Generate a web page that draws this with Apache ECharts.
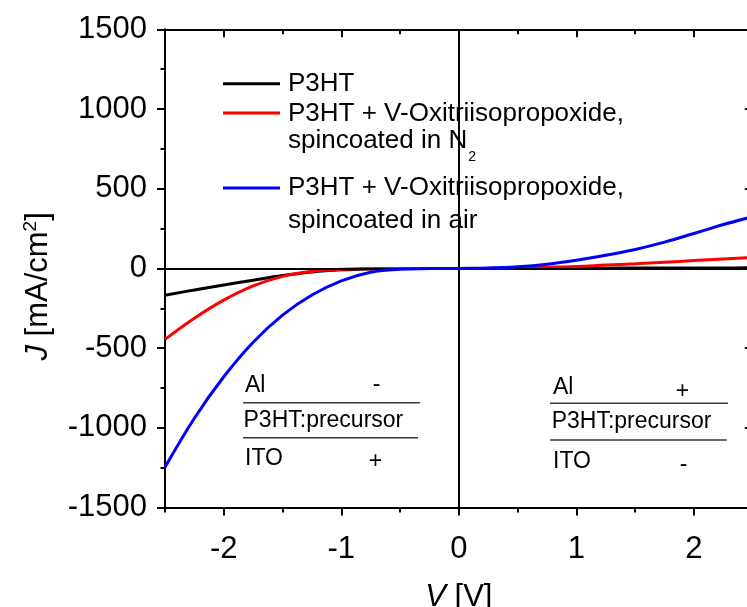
<!DOCTYPE html>
<html><head><meta charset="utf-8">
<script src="https://cdn.jsdelivr.net/npm/echarts@6/dist/echarts.min.js"></script>
<style>html,body{margin:0;padding:0;background:#fff}#c{width:747px;height:607px}</style>
</head><body><div id="c"></div>
<script>
// ---- data ----
const voltage = [-2.5,-2.25,-2,-1.75,-1.5,-1.25,-1,-0.75,-0.5,-0.25,0,0.25,0.5,0.75,1,1.25,1.5,1.75,2,2.25,2.5];
const jP3HT   = [-168,-135,-104,-74,-45,-22,-9,-3,-1,0,0,0,0.5,1,1,1.5,2,2,2.5,3,3.5];
const jN2     = [-445,-312,-199,-110,-50,-19,-6,-2,-0.5,0,0,0.5,3,7,12,21,29,39,49,59,69];
const jAir    = [-1248,-940,-680,-463,-293,-167,-78,-24,-5,-1,0,2,10,26,51,82,119,165,219,275,325];
const seriesNames = ['P3HT', 'P3HT + V-Oxitriisopropoxide, spincoated in N2', 'P3HT + V-Oxitriisopropoxide, spincoated in air'];
const seriesColors = ['#000000', '#ff0000', '#0000ff'];
const xMajorTicks = [-2, -1, 0, 1, 2];
const xMinorTicks = [-2.5, -1.5, -0.5, 0.5, 1.5, 2.5];
const xRange = [-2.5, 2.5];
const yRange = [-1500, 1500];
const yStep = 500;
const leftStack  = ['Al', '-', 'P3HT:precursor', 'ITO', '+'];
const rightStack = ['Al', '+', 'P3HT:precursor', 'ITO', '-'];

const FONT = '"Liberation Sans", Arial, Helvetica, sans-serif';
const pair = (ys) => voltage.map((v, i) => [v, ys[i]]);
const allSeries = [jP3HT, jN2, jAir];

const chart = echarts.init(document.getElementById('c'), null, {renderer: 'canvas'});

function baseX(extra) {
  return Object.assign({
    type: 'value', min: xRange[0], max: xRange[1], interval: 0.5,
    splitLine: {show: false},
    axisLine: {show: false, onZero: false},
    axisLabel: {show: false},
    axisTick: {show: false}
  }, extra);
}
const axisBlack = {color: '#000', width: 2};

function stackGraphics(items, o) {
  const g = [];
  const t = (text, x, y, align) => ({
    type: 'text', silent: true, z: 50,
    style: {text, x, y, align: align || 'left', verticalAlign: 'middle', font: '23px ' + FONT, fill: '#000'}
  });
  const l = (x1, x2, y) => ({
    type: 'line', silent: true, z: 50,
    shape: {x1, y1: y, x2, y2: y}, style: {stroke: '#3a3a3a', lineWidth: 1.5}
  });
  g.push(t(items[0], o.alX, o.alY));
  g.push(t(items[1], o.s1X, o.s1Y, 'center'));
  g.push(l(o.l1a, o.l1b, o.l1y));
  g.push(t(items[2], o.pX, o.pY));
  g.push(l(o.l2a, o.l2b, o.l2y));
  g.push(t(items[3], o.itoX, o.itoY));
  g.push(t(items[4], o.s2X, o.s2Y, 'center'));
  return g;
}

const legendRich = {
  a: {fontSize: 26, fontFamily: FONT, lineHeight: 30, backgroundColor: '#fff'},
  b: {fontSize: 26, fontFamily: FONT, lineHeight: 27, verticalAlign: 'top', backgroundColor: '#fff'},
  bs: {fontSize: 14, fontFamily: FONT, padding: [23, 1, 0, 1], verticalAlign: 'top', backgroundColor: '#fff'},
  c: {fontSize: 26, fontFamily: FONT, lineHeight: 33, backgroundColor: '#fff'}
};
function legendLabel(name) {
  if (name === seriesNames[0]) return '{a|P3HT}';
  if (name === seriesNames[1]) return '{b|P3HT + V-Oxitriisopropoxide,}\n{b|spincoated in N}{bs|2}';
  return '{c|P3HT + V-Oxitriisopropoxide,}\n{c|spincoated in air}';
}
// padTop keeps the legend line marker level with the first text line
function makeLegend(k, top, padTop) {
  return {
    orient: 'vertical', left: 223, top: top, padding: 0,
    icon: 'rect', itemWidth: 57, itemHeight: 3, selectedMode: false,
    textStyle: {fontSize: 26, color: '#000', fontFamily: FONT, padding: [padTop, 0, 0, 3], rich: legendRich},
    formatter: legendLabel,
    data: [seriesNames[k]]
  };
}

const option = {
  animation: false,
  backgroundColor: '#fff',
  textStyle: {fontFamily: FONT},
  grid: {left: 165, top: 29.3, right: -5.75, bottom: 99.5, containLabel: false, outerBoundsMode: 'none'},
  xAxis: [
    baseX({
      position: 'bottom',
      axisLine: {show: true, onZero: false, lineStyle: axisBlack},
      axisTick: {show: true, customValues: xMajorTicks, length: 8, lineStyle: axisBlack},
      axisLabel: {show: true, customValues: xMajorTicks, fontSize: 31, color: '#000', fontFamily: FONT, margin: 25, lineHeight: 34},
      name: '{i|V} [V]', nameLocation: 'middle', nameGap: 73,
      nameTextStyle: {fontSize: 31, color: '#000', fontFamily: FONT, lineHeight: 34,
        rich: {i: {fontStyle: 'italic', fontSize: 31, fontFamily: FONT, lineHeight: 34}}}
    }),
    baseX({position: 'bottom', axisTick: {show: true, customValues: xMinorTicks, length: 5, lineStyle: axisBlack}}),
    baseX({position: 'top', axisLine: {show: true, onZero: false, lineStyle: axisBlack},
      axisTick: {show: true, inside: true, customValues: xMajorTicks, length: 8, lineStyle: axisBlack}}),
    baseX({position: 'top', axisTick: {show: true, inside: true, customValues: xMinorTicks, length: 5, lineStyle: axisBlack}})
  ],
  yAxis: [
    {
      type: 'value', position: 'left', min: yRange[0], max: yRange[1], interval: yStep,
      splitLine: {show: false},
      axisLine: {show: true, onZero: false, lineStyle: axisBlack},
      axisTick: {show: true, length: 8, lineStyle: axisBlack},
      minorTick: {show: true, splitNumber: 2, length: 4.5, lineStyle: axisBlack},
      axisLabel: {fontSize: 31, color: '#000', fontFamily: FONT, margin: 18, formatter: (v) => String(v)},
      name: '{i|J} [mA/cm{sup|2}]', nameLocation: 'middle', nameRotate: 90, nameGap: 107,
      nameTextStyle: {fontSize: 31, color: '#000', fontFamily: FONT, lineHeight: 36, padding: [0, 36, 0, 0],
        rich: {
          i: {fontStyle: 'italic', fontSize: 31, fontFamily: FONT, lineHeight: 36},
          sup: {fontSize: 19, fontFamily: FONT, lineHeight: 19, verticalAlign: 'top'}
        }}
    },
    {
      type: 'value', position: 'right', min: yRange[0], max: yRange[1], interval: yStep,
      splitLine: {show: false},
      axisLine: {show: true, onZero: false, lineStyle: axisBlack},
      axisTick: {show: true, inside: true, length: 8, lineStyle: axisBlack},
      minorTick: {show: true, splitNumber: 2, length: 4.5, lineStyle: axisBlack},
      axisLabel: {show: false}
    }
  ],
  legend: [makeLegend(0, 70.8, 0), makeLegend(1, 100.5, 39), makeLegend(2, 175, 33)],
  graphic: stackGraphics(leftStack, {
    alX: 245, alY: 386, s1X: 376.5, s1Y: 385,
    l1a: 243, l1b: 420, l1y: 402.7,
    pX: 243.5, pY: 421,
    l2a: 243, l2b: 418, l2y: 437.7,
    itoX: 245, itoY: 458.5, s2X: 375.5, s2Y: 461.5
  }).concat(stackGraphics(rightStack, {
    alX: 553, alY: 387.5, s1X: 682.5, s1Y: 391.5,
    l1a: 550, l1b: 728, l1y: 403.3,
    pX: 551.7, pY: 421.7,
    l2a: 550, l2b: 726.7, l2y: 440,
    itoX: 553, itoY: 461.7, s2X: 683.5, s2Y: 465
  })),
  series: seriesNames.map((name, k) => ({
    name, type: 'line', xAxisIndex: 0, yAxisIndex: 0,
    data: pair(allSeries[k]),
    showSymbol: false, symbol: 'none', smooth: 0.4,
    color: seriesColors[k],
    lineStyle: {color: seriesColors[k], width: 3},
    z: 3 + k,
    markLine: k === 0 ? {
      silent: true, symbol: ['none', 'none'], label: {show: false},
      lineStyle: {type: 'solid', color: '#000', width: 2},
      emphasis: {disabled: true},
      data: [{xAxis: 0}, {yAxis: 0}]
    } : undefined
  }))
};
chart.setOption(option);
</script>
</body></html>
